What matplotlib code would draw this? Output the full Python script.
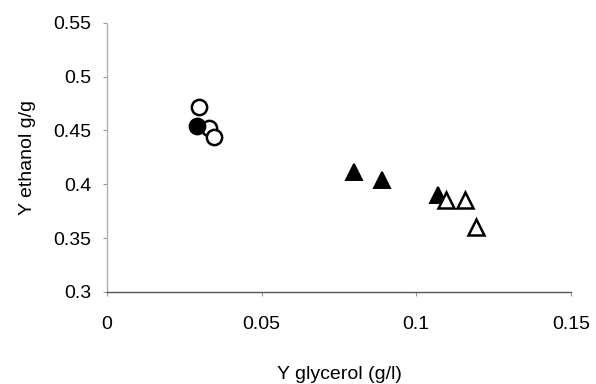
import matplotlib
matplotlib.use("Agg")
import matplotlib.pyplot as plt

plt.rcParams['font.family'] = ['Liberation Sans', 'DejaVu Sans']

# open circles
circ_open_x = [0.0297, 0.0331, 0.0347]
circ_open_y = [0.472, 0.452, 0.444]
# filled circle
circ_fill_x = [0.0290]
circ_fill_y = [0.454]
# filled triangles
tri_fill_x = [0.0798, 0.0889, 0.1071]
tri_fill_y = [0.411, 0.404, 0.390]
# open triangles
tri_open_x = [0.1097, 0.1157, 0.1194]
tri_open_y = [0.385, 0.385, 0.360]

xticks = [0, 0.05, 0.1, 0.15]
xtick_labels = ["0", "0.05", "0.1", "0.15"]
yticks = [0.3, 0.35, 0.4, 0.45, 0.5, 0.55]
ytick_labels = ["0.3", "0.35", "0.4", "0.45", "0.5", "0.55"]

fig = plt.figure(figsize=(5.96, 3.84), dpi=100)
ax = fig.add_axes([0.1795, 0.2396, 0.7785, 0.7014])

ax.plot(circ_open_x, circ_open_y, 'o', ms=11, mfc='white', mec='black', mew=1.8, ls='none', zorder=3)
ax.plot(circ_fill_x, circ_fill_y, 'o', ms=11, mfc='black', mec='black', mew=1.8, ls='none', zorder=4)
ax.plot(tri_fill_x, tri_fill_y, '^', ms=12, mfc='black', mec='black', mew=1.4, ls='none', zorder=3)
ax.plot(tri_open_x, tri_open_y, '^', ms=12, mfc='white', mec='black', mew=1.8, ls='none', zorder=4)

ax.set_xlim(0, 0.15)
ax.set_ylim(0.3, 0.55)
ax.set_xticks(xticks)
ax.set_xticklabels(xtick_labels)
ax.set_yticks(yticks)
ax.set_yticklabels(ytick_labels)

ax.spines['top'].set_visible(False)
ax.spines['right'].set_visible(False)
ax.spines['left'].set_color('#b0b0b0')
ax.spines['left'].set_linestyle((0, (1, 1)))
ax.spines['left'].set_linewidth(1.0)
ax.spines['bottom'].set_color('#555555')
ax.spines['bottom'].set_linewidth(1.0)

ax.tick_params(axis='x', direction='out', length=3, width=0.8, color='#999999', pad=14, labelsize=14)
ax.tick_params(axis='y', direction='out', length=3, width=0.8, color='#999999', pad=8, labelsize=14)

ax.set_xlabel("Y glycerol (g/l)", fontsize=14, labelpad=24)
ax.set_ylabel("Y ethanol g/g", fontsize=14, labelpad=13)

fig.savefig("out.png", dpi=100)
